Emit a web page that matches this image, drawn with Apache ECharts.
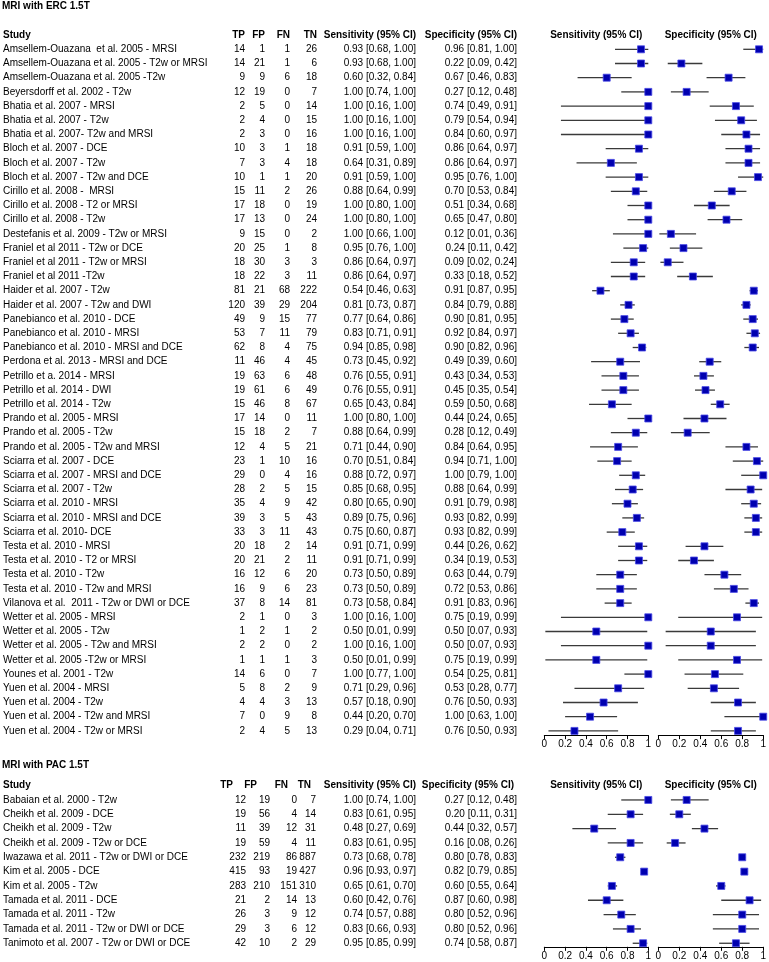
<!DOCTYPE html>
<html><head><meta charset="utf-8">
<script src="https://cdn.jsdelivr.net/npm/echarts@6/dist/echarts.min.js"></script>
<style>html,body{margin:0;padding:0;background:#fff}#c{width:769px;height:962px}</style>
</head><body><div id="c"></div>
<script>
// ---------- DATA: MRI with ERC 1.5T ----------
const ercTitle = 'MRI with ERC 1.5T';
const ercStudy = [
 'Amsellem-Ouazana  et al. 2005 - MRSI','Amsellem-Ouazana et al. 2005 - T2w or MRSI','Amsellem-Ouazana et al. 2005 -T2w',
 'Beyersdorff et al. 2002 - T2w','Bhatia et al. 2007 - MRSI','Bhatia et al. 2007 - T2w','Bhatia et al. 2007- T2w and MRSI',
 'Bloch et al. 2007 - DCE','Bloch et al. 2007 - T2w','Bloch et al. 2007 - T2w and DCE','Cirillo et al. 2008 -  MRSI',
 'Cirillo et al. 2008 - T2 or MRSI','Cirillo et al. 2008 - T2w','Destefanis et al. 2009 - T2w or MRSI',
 'Franiel et al 2011 - T2w or DCE','Franiel et al 2011 - T2w or MRSI','Franiel et al 2011 -T2w',
 'Haider et al. 2007 - T2w','Haider et al. 2007 - T2w and DWI','Panebianco et al. 2010 - DCE','Panebianco et al. 2010 - MRSI',
 'Panebianco et al. 2010 - MRSI and DCE','Perdona et al. 2013 - MRSI and DCE','Petrillo et a. 2014 - MRSI',
 'Petrillo et al. 2014 - DWI','Petrillo et al. 2014 - T2w','Prando et al. 2005 - MRSI','Prando et al. 2005 - T2w',
 'Prando et al. 2005 - T2w and MRSI','Sciarra et al. 2007 - DCE','Sciarra et al. 2007 - MRSI and DCE','Sciarra et al. 2007 - T2w',
 'Sciarra et al. 2010 - MRSI','Sciarra et al. 2010 - MRSI and DCE','Sciarra et al. 2010- DCE','Testa et al. 2010 - MRSI',
 'Testa et al. 2010 - T2 or MRSI','Testa et al. 2010 - T2w','Testa et al. 2010 - T2w and MRSI',
 'Vilanova et al.  2011 - T2w or DWI or DCE','Wetter et al. 2005 - MRSI','Wetter et al. 2005 - T2w',
 'Wetter et al. 2005 - T2w and MRSI','Wetter et al. 2005 -T2w or MRSI','Younes et al. 2001 - T2w','Yuen et al. 2004 - MRSI',
 'Yuen et al. 2004 - T2w','Yuen et al. 2004 - T2w and MRSI','Yuen et al. 2004 - T2w or MRSI'];
const ercTP = [14,14,9,12,2,2,2,10,7,10,15,17,17,9,20,18,18,81,120,49,53,62,11,19,19,15,17,15,12,23,29,28,35,39,33,20,20,16,16,37,2,1,2,1,14,5,4,7,2];
const ercFP = [1,21,9,19,5,4,3,3,3,1,11,18,13,15,25,30,22,21,39,9,7,8,46,63,61,46,14,18,4,1,0,2,4,3,3,18,21,12,9,8,1,2,2,1,6,8,4,0,4];
const ercFN = [1,1,6,0,0,0,0,1,4,1,2,0,0,0,1,3,3,68,29,15,11,4,4,6,6,8,0,2,5,10,4,5,9,5,11,2,2,6,6,14,0,1,0,1,0,2,3,9,5];
const ercTN = [26,6,18,7,14,15,16,18,18,20,26,19,24,2,8,3,11,222,204,77,79,75,45,48,49,67,11,7,21,16,16,15,42,43,43,14,11,20,23,81,3,2,2,3,7,9,13,8,13];
const ercSens   = [0.93,0.93,0.60,1.00,1.00,1.00,1.00,0.91,0.64,0.91,0.88,1.00,1.00,1.00,0.95,0.86,0.86,0.54,0.81,0.77,0.83,0.94,0.73,0.76,0.76,0.65,1.00,0.88,0.71,0.70,0.88,0.85,0.80,0.89,0.75,0.91,0.91,0.73,0.73,0.73,1.00,0.50,1.00,0.50,1.00,0.71,0.57,0.44,0.29];
const ercSensLo = [0.68,0.68,0.32,0.74,0.16,0.16,0.16,0.59,0.31,0.59,0.64,0.80,0.80,0.66,0.76,0.64,0.64,0.46,0.73,0.64,0.71,0.85,0.45,0.55,0.55,0.43,0.80,0.64,0.44,0.51,0.72,0.68,0.65,0.75,0.60,0.71,0.71,0.50,0.50,0.58,0.16,0.01,0.16,0.01,0.77,0.29,0.18,0.20,0.04];
const ercSensHi = [1.00,1.00,0.84,1.00,1.00,1.00,1.00,1.00,0.89,1.00,0.99,1.00,1.00,1.00,1.00,0.97,0.97,0.63,0.87,0.86,0.91,0.98,0.92,0.91,0.91,0.84,1.00,0.99,0.90,0.84,0.97,0.95,0.90,0.96,0.87,0.99,0.99,0.89,0.89,0.84,1.00,0.99,1.00,0.99,1.00,0.96,0.90,0.70,0.71];
const ercSpec   = [0.96,0.22,0.67,0.27,0.74,0.79,0.84,0.86,0.86,0.95,0.70,0.51,0.65,0.12,0.24,0.09,0.33,0.91,0.84,0.90,0.92,0.90,0.49,0.43,0.45,0.59,0.44,0.28,0.84,0.94,1.00,0.88,0.91,0.93,0.93,0.44,0.34,0.63,0.72,0.91,0.75,0.50,0.50,0.75,0.54,0.53,0.76,1.00,0.76];
const ercSpecLo = [0.81,0.09,0.46,0.12,0.49,0.54,0.60,0.64,0.64,0.76,0.53,0.34,0.47,0.01,0.11,0.02,0.18,0.87,0.79,0.81,0.84,0.82,0.39,0.34,0.35,0.50,0.24,0.12,0.64,0.71,0.79,0.64,0.79,0.82,0.82,0.26,0.19,0.44,0.53,0.83,0.19,0.07,0.07,0.19,0.25,0.28,0.50,0.63,0.50];
const ercSpecHi = [1.00,0.42,0.83,0.48,0.91,0.94,0.97,0.97,0.97,1.00,0.84,0.68,0.80,0.36,0.42,0.24,0.52,0.95,0.88,0.95,0.97,0.96,0.60,0.53,0.54,0.68,0.65,0.49,0.95,1.00,1.00,0.99,0.98,0.99,0.99,0.62,0.53,0.79,0.86,0.96,0.99,0.93,0.93,0.99,0.81,0.77,0.93,1.00,0.93];

// ---------- DATA: MRI with PAC 1.5T ----------
const pacTitle = 'MRI with PAC 1.5T';
const pacStudy = ['Babaian et al. 2000 - T2w','Cheikh et al. 2009 - DCE','Cheikh et al. 2009 - T2w','Cheikh et al. 2009 - T2w or DCE',
 'Iwazawa et al. 2011 - T2w or DWI or DCE','Kim et al. 2005 - DCE','Kim et al. 2005 - T2w','Tamada et al. 2011 - DCE',
 'Tamada et al. 2011 - T2w','Tamada et al. 2011 - T2w or DWI or DCE','Tanimoto et al. 2007 - T2w or DWI or DCE'];
const pacTP = [12,19,11,19,232,415,283,21,26,29,42];
const pacFP = [19,56,39,59,219,93,210,2,3,3,10];
const pacFN = [0,4,12,4,86,19,151,14,9,6,2];
const pacTN = [7,14,31,11,887,427,310,13,12,12,29];
const pacSens   = [1.00,0.83,0.48,0.83,0.73,0.96,0.65,0.60,0.74,0.83,0.95];
const pacSensLo = [0.74,0.61,0.27,0.61,0.68,0.93,0.61,0.42,0.57,0.66,0.85];
const pacSensHi = [1.00,0.95,0.69,0.95,0.78,0.97,0.70,0.76,0.88,0.93,0.99];
const pacSpec   = [0.27,0.20,0.44,0.16,0.80,0.82,0.60,0.87,0.80,0.80,0.74];
const pacSpecLo = [0.12,0.11,0.32,0.08,0.78,0.79,0.55,0.60,0.52,0.52,0.58];
const pacSpecHi = [0.48,0.31,0.57,0.26,0.83,0.85,0.64,0.98,0.96,0.96,0.87];

const colHeaders = ['Study','TP','FP','FN','TN','Sensitivity (95% CI)','Specificity (95% CI)'];
const xTicks = [0, 0.2, 0.4, 0.6, 0.8, 1];

// ---------- BUILD ----------
const FONT = '"Liberation Sans", Arial, Helvetica, sans-serif';
const sections = [
  {title: ercTitle, titleTop: 1, study: ercStudy, tp: ercTP, fp: ercFP, fn: ercFN, tn: ercTN,
   sens: ercSens, sensLo: ercSensLo, sensHi: ercSensHi, spec: ercSpec, specLo: ercSpecLo, specHi: ercSpecHi,
   top: 20.9, rowH: 14.2, maxPad: 0.3, colRight: [2, 244, 264, 289, 316, 415, 516], hdrPad: [0,0,0,0,0,0,0]},
  {title: pacTitle, titleTop: 760, study: pacStudy, tp: pacTP, fp: pacFP, fn: pacFN, tn: pacTN,
   sens: pacSens, sensLo: pacSensLo, sensHi: pacSensHi, spec: pacSpec, specLo: pacSpecLo, specHi: pacSpecHi,
   top: 771.3, rowH: 14.33, maxPad: 0.25, colRight: [2, 245, 269, 296, 315, 415, 516], hdrPad: [0,13,13,9,5,0,3]}
];
const SENS_LEFT = 543.3, SENS_W = 105, SPEC_LEFT = 658.3, SPEC_W = 105.7;

const fmt2 = v => v.toFixed(2);
const grid = [], xAxis = [], yAxis = [], series = [], title = [];

function forestRender(params, api) {
  const r = api.value(1);
  const a = api.coord([api.value(2), r]);
  const b = api.coord([api.value(3), r]);
  const c = api.coord([api.value(0), r]);
  const s = 7;
  return {type: 'group', children: [
    {type: 'line', shape: {x1: a[0], y1: a[1], x2: b[0], y2: b[1]}, style: {stroke: '#3a3a3a', lineWidth: 1.3}},
    {type: 'rect', shape: {x: c[0] - s/2, y: c[1] - s/2, width: s, height: s}, style: {fill: '#0000b0', stroke: '#4a4ae6', lineWidth: 0.8}}
  ]};
}
function headerRender(params, api) {
  const p = api.coord([api.value(0), api.value(1)]);
  return {type: 'text', style: {text: params.seriesName, x: p[0], y: p[1], align: 'center', verticalAlign: 'middle',
    textAlign: 'center', textVerticalAlign: 'middle', fontSize: 10, fontWeight: 'bold', fontFamily: FONT, fill: '#000'}};
}

sections.forEach((sec, si) => {
  const n = sec.study.length;
  const yMax = n - 1 + sec.maxPad;
  const height = (yMax + 2) * sec.rowH;
  const gS = grid.length;
  grid.push({left: SENS_LEFT, width: SENS_W, top: sec.top, height: height});
  grid.push({left: SPEC_LEFT, width: SPEC_W, top: sec.top, height: height});
  title.push({text: sec.title, left: 2, top: sec.titleTop, padding: 0,
    textStyle: {fontSize: 10, fontWeight: 'bold', fontFamily: FONT, color: '#000'}});
  [gS, gS + 1].forEach(g => {
    xAxis.push({type: 'value', gridIndex: g, min: 0, max: 1, interval: 0.2, position: 'bottom',
      axisLine: {show: true, onZero: false, lineStyle: {color: '#000', width: 1}},
      axisTick: {show: true, length: 4, lineStyle: {color: '#000'}},
      splitLine: {show: false},
      axisLabel: {show: true, margin: 4, fontSize: 10, fontFamily: FONT, color: '#000',
        formatter: v => { const t = xTicks.find(k => Math.abs(k - v) < 1e-6); return t === undefined ? '' : String(t); }}});
  });
  const yBase = {type: 'value', inverse: true, min: -2, max: yMax, interval: 1,
    axisLine: {show: false, onZero: false}, axisTick: {show: false}, splitLine: {show: false}};
  const ySens = yAxis.length;
  yAxis.push(Object.assign({}, yBase, {gridIndex: gS, axisLabel: {show: false}}));
  const ySpec = yAxis.length;
  yAxis.push(Object.assign({}, yBase, {gridIndex: gS + 1, axisLabel: {show: false}}));
  // table columns as y-axis label columns
  const cols = [
    sec.study, sec.tp, sec.fp, sec.fn, sec.tn,
    sec.sens.map((v, i) => fmt2(v) + ' [' + fmt2(sec.sensLo[i]) + ', ' + fmt2(sec.sensHi[i]) + ']'),
    sec.spec.map((v, i) => fmt2(v) + ' [' + fmt2(sec.specLo[i]) + ', ' + fmt2(sec.specHi[i]) + ']')
  ];
  cols.forEach((vals, ci) => {
    const x = sec.colRight[ci];
    yAxis.push(Object.assign({}, yBase, {gridIndex: gS, position: 'left', offset: SENS_LEFT - x,
      axisLabel: {show: true, margin: 0, align: ci === 0 ? 'left' : 'right', fontSize: 10, fontFamily: FONT, color: '#000',
        rich: {h: {fontSize: 10, fontWeight: 'bold', fontFamily: FONT, color: '#000', padding: [0, sec.hdrPad[ci], 0, 0]}},
        formatter: v => {
          const i = Math.round(v);
          if (Math.abs(v - i) > 1e-6) return '';
          if (i === -1) return '{h|' + colHeaders[ci] + '}';
          if (i < 0 || i >= n) return '';
          return String(vals[i]);
        }}}));
  });
  // forest plot series
  series.push({type: 'custom', name: 'sens' + si, xAxisIndex: gS, yAxisIndex: ySens, clip: false,
    renderItem: forestRender, encode: {x: [0, 2, 3], y: 1},
    data: sec.sens.map((v, i) => [v, i, sec.sensLo[i], sec.sensHi[i]])});
  series.push({type: 'custom', name: 'spec' + si, xAxisIndex: gS + 1, yAxisIndex: ySpec, clip: false,
    renderItem: forestRender, encode: {x: [0, 2, 3], y: 1},
    data: sec.spec.map((v, i) => [v, i, sec.specLo[i], sec.specHi[i]])});
  series.push({type: 'custom', name: colHeaders[5], xAxisIndex: gS, yAxisIndex: ySens, clip: false,
    renderItem: headerRender, data: [[0.5, -1]]});
  series.push({type: 'custom', name: colHeaders[6], xAxisIndex: gS + 1, yAxisIndex: ySpec, clip: false,
    renderItem: headerRender, data: [[0.5, -1]]});
});

const chart = echarts.init(document.getElementById('c'), null, {renderer: 'canvas'});
chart.setOption({backgroundColor: '#fff', animation: false, title, grid, xAxis, yAxis, series, tooltip: {show: false}});
</script>
</body></html>
